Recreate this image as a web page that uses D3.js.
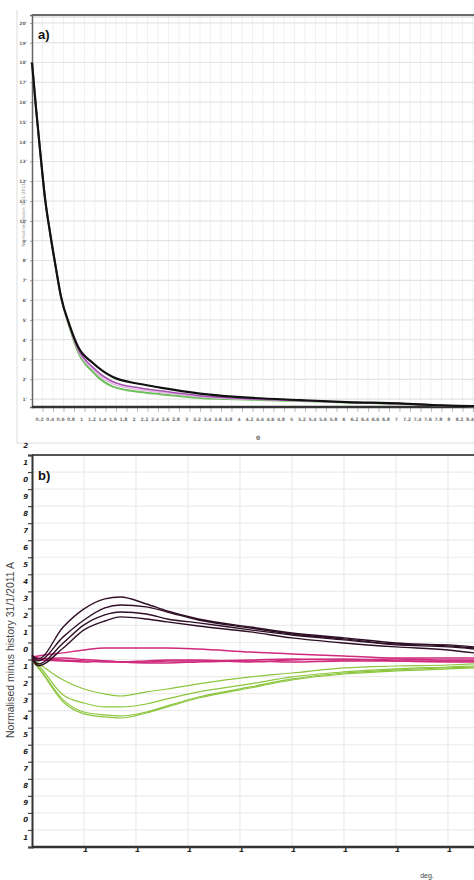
<!DOCTYPE html>
<html><head><meta charset="utf-8">
<script src="https://cdn.jsdelivr.net/npm/d3@7"></script>
<style>body{margin:0;background:#fff}svg{display:block}</style>
</head><body>
<svg id="c" width="474" height="880"></svg>
<script>
// ---------- Panel a data ----------
const aX      = [0, 0.08, 0.16, 0.25, 0.35, 0.45, 0.55, 0.72, 0.88, 1.16, 1.54, 2.06, 2.44, 3.2, 4.2, 5.1, 6.0, 7.0, 7.8, 8.45];
const aBlack  = [18.0, 15.6, 13.4, 11.1, 9.3, 7.7, 6.2, 4.7, 3.63, 2.82, 2.11, 1.76, 1.58, 1.28, 1.06, 0.95, 0.85, 0.78, 0.68, 0.64];
const aPurple = [18.0, 15.6, 13.4, 11.1, 9.3, 7.7, 6.2, 4.66, 3.52, 2.6, 1.88, 1.56, 1.42, 1.17, 1.01, 0.93, 0.84, 0.77, 0.67, 0.63];
const aPink   = [18.0, 15.6, 13.4, 11.1, 9.3, 7.7, 6.2, 4.63, 3.45, 2.5, 1.77, 1.47, 1.35, 1.12, 0.99, 0.92, 0.84, 0.77, 0.67, 0.63];
const aGreen  = [18.0, 15.6, 13.4, 11.1, 9.3, 7.7, 6.2, 4.58, 3.36, 2.37, 1.63, 1.36, 1.25, 1.06, 0.97, 0.9, 0.83, 0.76, 0.67, 0.63];
const aYTicks = [1,2,3,4,5,6,7,8,9,10,11,12,13,14,15,16,17,18,19,20];
const aXLabels = ["0.2","0.4","0.6","0.8","1","1.2","1.4","1.6","1.8","2","2.2","2.4","2.6","2.8","3","3.2","3.4","3.6","3.8","4","4.2","4.4","4.6","4.8","5","5.2","5.4","5.6","5.8","6","6.2","6.4","6.6","6.8","7","7.2","7.4","7.6","7.8","8","8.2","8.4"];

// ---------- Panel b data ----------
const bX  = [0, 0.12, 0.6, 1.0, 1.4, 1.7, 2.2, 2.6, 3.2, 4.2, 5.0, 6.0, 7.0, 8.0, 8.5];
const bDark1 = [0.027, 0.004, 0.191, 0.297, 0.356, 0.367, 0.326, 0.285, 0.238, 0.191, 0.156, 0.127, 0.097, 0.080, 0.068];
const bDark2 = [0.021, -0.008, 0.133, 0.232, 0.303, 0.320, 0.309, 0.279, 0.232, 0.185, 0.150, 0.121, 0.091, 0.086, 0.074];
const bDark3 = [0.009, -0.026, 0.097, 0.203, 0.262, 0.279, 0.267, 0.238, 0.215, 0.174, 0.144, 0.115, 0.086, 0.074, 0.062];
const bDark4 = [-0.003, -0.036, 0.068, 0.174, 0.226, 0.250, 0.238, 0.221, 0.197, 0.162, 0.127, 0.097, 0.074, 0.056, 0.039];
const bMag1 = [0.015, 0.021, 0.039, 0.056, 0.068, 0.068, 0.068, 0.068, 0.062, 0.044, 0.033, 0.021, 0.009, 0.009, 0.009];
const bMag2 = [-0.003, 0.003, 0.009, 0.0, -0.008, -0.014, -0.014, -0.008, -0.008, -0.003, 0.003, -0.003, 0.003, -0.003, -0.003];
const bMag3 = [-0.008, -0.003, -0.008, -0.014, -0.008, -0.014, -0.020, -0.020, -0.014, -0.008, -0.014, -0.008, -0.008, -0.008, -0.008];
const bMag4 = [0.021, 0.009, -0.003, -0.008, -0.014, -0.014, -0.008, -0.003, -0.003, -0.014, -0.003, 0.003, -0.008, -0.014, -0.014];
const bGreen1 = [0.009, -0.020, -0.120, -0.173, -0.202, -0.214, -0.190, -0.173, -0.143, -0.102, -0.079, -0.049, -0.038, -0.032, -0.026];
const bGreen2 = [0.003, -0.032, -0.208, -0.255, -0.278, -0.278, -0.261, -0.231, -0.190, -0.143, -0.102, -0.073, -0.055, -0.044, -0.038];
const bGreen3 = [-0.003, -0.044, -0.237, -0.308, -0.325, -0.331, -0.308, -0.272, -0.220, -0.161, -0.114, -0.079, -0.061, -0.049, -0.044];
const bGreen4 = [-0.008, -0.049, -0.249, -0.319, -0.337, -0.343, -0.314, -0.278, -0.226, -0.167, -0.120, -0.085, -0.067, -0.055, -0.049];
const bYTicks  = [1.2,1.1,1.0,0.9,0.8,0.7,0.6,0.5,0.4,0.3,0.2,0.1,0,-0.1,-0.2,-0.3,-0.4,-0.5,-0.6,-0.7,-0.8,-0.9,-1.0,-1.1];
const bYLabels = ["2","1","0","9","8","7","6","5","4","3","2","1","0","1","2","3","4","5","6","7","8","9","0","1"];
const bXTicks  = [1,2,3,4,5,6,7,8];
const bXLabels = ["1","1","1","1","1","1","1","1"];

const svg = d3.select("#c");

// ================= PANEL A =================
const xA = d3.scaleLinear().domain([0, 8.42]).range([32, 474]);
const yA = d3.scaleLinear().domain([0.6, 20.4]).range([407, 15]);
const gA = svg.append("g");

// outer light frame
gA.append("line").attr("x1",17).attr("x2",17).attr("y1",10).attr("y2",443).attr("stroke","#ddd");
gA.append("line").attr("x1",17).attr("x2",474).attr("y1",443).attr("y2",443).attr("stroke","#ddd");

// minor vertical grid
const aXVals = aXLabels.map(Number);
gA.append("g").selectAll("line").data(aXVals).join("line")
  .attr("x1",d=>xA(d)).attr("x2",d=>xA(d)).attr("y1",16).attr("y2",406)
  .attr("stroke","#f1f1f1").attr("stroke-width",1);
// horizontal grid
gA.append("g").selectAll("line").data(aYTicks).join("line")
  .attr("x1",33).attr("x2",474).attr("y1",d=>yA(d)).attr("y2",d=>yA(d))
  .attr("stroke","#e4e4e4").attr("stroke-width",1.2);

// top border
gA.append("line").attr("x1",32).attr("x2",474).attr("y1",15).attr("y2",15).attr("stroke","#6a6a6a").attr("stroke-width",2);
gA.append("line").attr("x1",32).attr("x2",474).attr("y1",17).attr("y2",17).attr("stroke","#cfcfcf").attr("stroke-width",1);

// y axis
const axA = d3.axisLeft(yA).tickValues(aYTicks).tickSize(2).tickFormat(d=>d + "'");
const gyA = gA.append("g").attr("transform","translate(32,0)").call(axA);
gyA.select(".domain").attr("stroke","#666").attr("stroke-width",1.5);
gyA.selectAll(".tick line").attr("stroke","#999");
gyA.selectAll("text").attr("font-family","DejaVu Sans").attr("font-size",4.5).attr("font-weight","bold").attr("fill","#666").attr("dx",0);

// x axis
const axXA = d3.axisBottom(xA).tickValues(aXVals).tickSize(5).tickFormat((d,i)=>aXLabels[i]);
const gxA = gA.append("g").attr("transform","translate(0,407)").call(axXA);
gxA.select(".domain").attr("stroke","none");
gxA.selectAll(".tick line").attr("stroke","#bbb");
gxA.selectAll("text").attr("font-family","DejaVu Sans").attr("font-size",4.6).attr("font-weight","bold")
  .attr("fill","#777").attr("dx",-3.5).attr("dy",6);
gA.append("line").attr("x1",32).attr("x2",474).attr("y1",407).attr("y2",407).attr("stroke","#333").attr("stroke-width",2.5);

// axis titles (tiny)
gA.append("text").attr("transform","translate(25,215) rotate(-90)").attr("text-anchor","middle")
  .attr("font-family","DejaVu Sans").attr("font-size",4.5).attr("fill","#999").text("Normalised mean 31/1/2011");
gA.append("text").attr("x",258).attr("y",440).attr("text-anchor","middle")
  .attr("font-family","DejaVu Sans").attr("font-size",6).attr("font-weight","bold").attr("fill","#777").text("θ");

// curves
const lineA = (vals) => d3.line().x((d,i)=>xA(aX[i])).y(d=>yA(d)).curve(d3.curveMonotoneX)(vals);
gA.append("path").attr("d",lineA(aGreen)).attr("fill","none").attr("stroke","#6cc05a").attr("stroke-width",2);
gA.append("path").attr("d",lineA(aPink)).attr("fill","none").attr("stroke","#e8b4e8").attr("stroke-width",1.5);
gA.append("path").attr("d",lineA(aPurple)).attr("fill","none").attr("stroke","#a352b0").attr("stroke-width",1.6);
gA.append("path").attr("d",lineA(aBlack)).attr("fill","none").attr("stroke","#111").attr("stroke-width",2.2);

gA.append("text").attr("x",38).attr("y",39).attr("font-family","Liberation Sans, Arial").attr("font-weight","bold")
  .attr("font-size",13).attr("fill","#111").text("a)");

// ================= PANEL B =================
const xB = d3.scaleLinear().domain([0, 8.5]).range([32, 474]);
const yB = d3.scaleLinear().domain([-1.1, 1.2]).range([847, 455]);
const gB = svg.append("g");

// grid
const gridH = bYTicks.filter(v => v > -1.05 && v < 1.15);
gB.append("g").selectAll("line").data(gridH).join("line")
  .attr("x1",33).attr("x2",474).attr("y1",d=>yB(d)).attr("y2",d=>yB(d))
  .attr("stroke","#ececec").attr("stroke-width",1.2);
gB.append("g").selectAll("line").data(bXTicks).join("line")
  .attr("x1",d=>xB(d)).attr("x2",d=>xB(d)).attr("y1",456).attr("y2",846)
  .attr("stroke","#ececec").attr("stroke-width",1.2);

// top border
gB.append("line").attr("x1",32).attr("x2",474).attr("y1",455).attr("y2",455).attr("stroke","#555").attr("stroke-width",1.8);

// y axis
const axB = d3.axisLeft(yB).tickValues(bYTicks).tickSize(4).tickFormat((d,i)=>bYLabels[i]);
const gyB = gB.append("g").attr("transform","translate(32,0)").call(axB);
gyB.select(".domain").attr("stroke","#333").attr("stroke-width",2);
gyB.selectAll(".tick line").attr("stroke","#444").attr("stroke-width",1.2);
gyB.selectAll("text").attr("font-family","DejaVu Sans").attr("font-size",7).attr("font-weight","bold")
  .attr("font-style","italic").attr("fill","#222").attr("dy",-8).attr("x",-4);

// x axis
const axXB = d3.axisBottom(xB).tickValues(bXTicks).tickSize(4).tickFormat((d,i)=>bXLabels[i]);
const gxB = gB.append("g").attr("transform","translate(0,847)").call(axXB);
gxB.select(".domain").attr("stroke","none");
gxB.selectAll(".tick line").attr("stroke","none");
gxB.selectAll("text").attr("font-family","DejaVu Sans").attr("font-size",7.5).attr("font-weight","bold")
  .attr("font-style","italic").attr("fill","#222").attr("dy",-2).attr("dx",1);
gB.append("line").attr("x1",32).attr("x2",474).attr("y1",847).attr("y2",847).attr("stroke","#333").attr("stroke-width",2.5);

// titles
gB.append("text").attr("transform","translate(14,650) rotate(-90)").attr("text-anchor","middle")
  .attr("font-family","Liberation Sans, Arial").attr("font-size",10.5).attr("fill","#444")
  .text("Normalised minus history 31/1/2011 A");
gB.append("text").attr("x",427).attr("y",878).attr("text-anchor","middle")
  .attr("font-family","Liberation Sans, Arial").attr("font-size",7).attr("fill","#444").text("deg.");

gB.append("text").attr("x",38).attr("y",480).attr("font-family","Liberation Sans, Arial").attr("font-weight","bold")
  .attr("font-size",13).attr("fill","#111").text("b)");

// lines
const lineB = (vals) => d3.line().x((d,i)=>xB(bX[i])).y(d=>yB(d)).curve(d3.curveMonotoneX)(vals);
const drawB = (vals, color, w) => gB.append("path").attr("d",lineB(vals)).attr("fill","none")
  .attr("stroke",color).attr("stroke-width",w);
[bGreen1,bGreen2,bGreen3,bGreen4].forEach(v=>drawB(v,"#8cc63e",1.2));
[bMag2,bMag3,bMag4,bMag1].forEach(v=>drawB(v,"#d02a7c",1.5));
[bDark1,bDark2,bDark3,bDark4].forEach(v=>drawB(v,"#2e0f26",1.4));
</script>
</body></html>
